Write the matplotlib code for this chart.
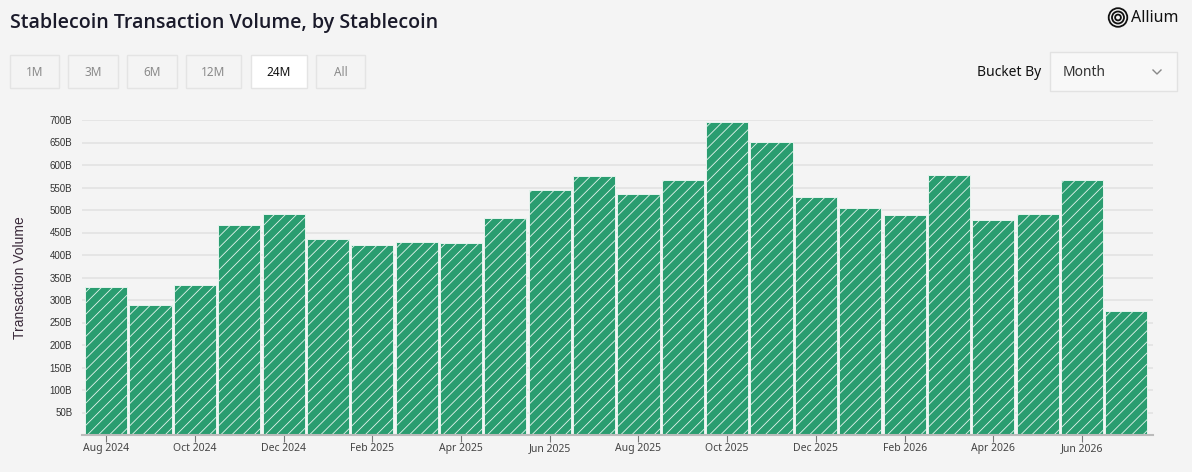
import matplotlib

matplotlib.use("Agg")
import matplotlib.pyplot as plt
from matplotlib.patches import Rectangle, Circle
from matplotlib.ticker import FuncFormatter

# monthly stablecoin transaction volume, in billions
months = [
    "Aug 2024", "Sep 2024", "Oct 2024", "Nov 2024", "Dec 2024", "Jan 2025",
    "Feb 2025", "Mar 2025", "Apr 2025", "May 2025", "Jun 2025", "Jul 2025",
    "Aug 2025", "Sep 2025", "Oct 2025", "Nov 2025", "Dec 2025", "Jan 2026",
    "Feb 2026", "Mar 2026", "Apr 2026", "May 2026", "Jun 2026", "Jul 2026",
]
volume_b = [
    330, 290, 334, 467, 491, 436,
    422, 429, 427, 482, 545, 576,
    536, 567, 695, 651, 529, 505,
    489, 578, 478, 491, 567, 276,
]
yticks_b = [50, 100, 150, 200, 250, 300, 350, 400, 450, 500, 550, 600, 650, 700]
range_buttons = ["1M", "3M", "6M", "12M", "24M", "All"]
active_button = "24M"

W, H = 1192, 472
BG = "#f4f4f4"
GREEN = "#2a9d70"

plt.rcParams["hatch.linewidth"] = 0.6
plt.rcParams["font.family"] = ["Noto Sans", "DejaVu Sans"]

fig = plt.figure(figsize=(W / 100, H / 100), dpi=100, facecolor=BG)

# main chart area, in pixel terms: x 82..1153, y 120..435
ax = fig.add_axes([82 / W, 1 - 435 / H, (1153 - 82) / W, (435 - 120) / H])
ax.set_facecolor(BG)
x = list(range(len(months)))
ax.bar(x, volume_b, width=0.95, color=GREEN, edgecolor="#e6f4ee",
       linewidth=0.7, hatch="///", zorder=2)
ax.set_xlim(-0.545, 23.6)
ax.set_ylim(0, 700)
ax.set_yticks(yticks_b)
ax.yaxis.set_major_formatter(FuncFormatter(lambda v, _: f"{v:.0f}B"))
ax.grid(axis="y", color="#e3e3e3", linewidth=1.2, zorder=0)
ax.tick_params(axis="y", length=0, labelsize=7, labelcolor="#333333", pad=7)
for lbl in ax.get_yticklabels():
    lbl.set_family("Liberation Sans")
ax.set_xticks(x[::2])
ax.set_xticklabels(months[::2])
ax.tick_params(axis="x", length=5, color="#777777", labelsize=7.5,
               labelcolor="#444444", pad=1)
for side in ("top", "right", "left"):
    ax.spines[side].set_visible(False)
ax.spines["bottom"].set_color("#bbbbbb")
ax.spines["bottom"].set_linewidth(1.5)
ax.set_ylabel("Transaction Volume", fontsize=10, color="#3a2a3a",
              family="Liberation Sans", labelpad=16)

# overlay for the header controls, pixel coordinates
ov = fig.add_axes([0, 0, 1, 1])
ov.set_xlim(0, W)
ov.set_ylim(H, 0)
ov.axis("off")
ov.patch.set_visible(False)

ov.text(10, 23, "Stablecoin Transaction Volume, by Stablecoin", fontsize=14.1,
        family=["Open Sans", "DejaVu Sans"], fontweight="semibold",
        color="#1a1a2a", va="center", ha="left")

btn_x = [10, 68, 127, 186, 251, 316]
btn_w = [49, 50, 50, 55, 56, 49]
for name, bx, bw in zip(range_buttons, btn_x, btn_w):
    active = name == active_button
    ov.add_patch(Rectangle((bx, 55), bw, 33, facecolor="white" if active else BG,
                           edgecolor="#e4e4e4", linewidth=1))
    ov.text(bx + bw / 2, 72, name, fontsize=8.5, ha="center", va="center",
            color="#111111" if active else "#8a8a8a")

ov.text(1041, 72, "Bucket By", fontsize=10, ha="right", va="center", color="#111111")
ov.add_patch(Rectangle((1050, 52), 127, 39, facecolor="#f8f8f8",
                       edgecolor="#e2e2e2", linewidth=1))
ov.text(1063, 72, "Month", fontsize=10, ha="left", va="center", color="#333333")
ov.plot([1153, 1157, 1161], [70, 74, 70], color="#888888", linewidth=1)

# Allium logo
for r in (9.3, 6.0, 2.9):
    ov.add_patch(Circle((1118, 17.5), r, facecolor="none", edgecolor="#111111",
                        linewidth=1.3))
ov.text(1131, 18, "Allium", fontsize=11.5, ha="left", va="center", color="#111111")

fig.savefig("out.png", dpi=100, facecolor=BG)
